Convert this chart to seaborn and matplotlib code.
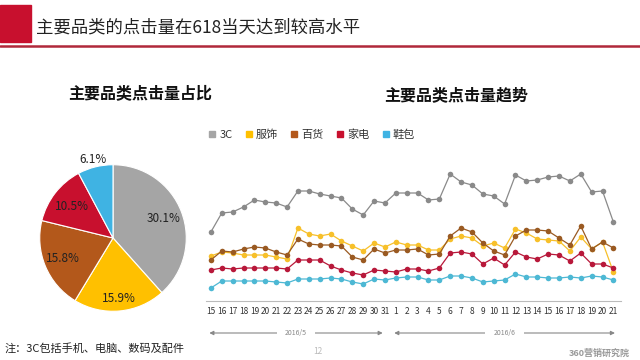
import numpy as np
import pandas as pd
import matplotlib
matplotlib.use("Agg")
import matplotlib.pyplot as plt
from matplotlib.lines import Line2D
from matplotlib.patches import Rectangle
import seaborn as sns

# data
categories = ["3C", "服饰", "百货", "家电", "鞋包"]
share = [30.1, 15.9, 15.8, 10.5, 6.1]
days = [str(d) for d in range(15, 32)] + [str(d) for d in range(1, 22)]
clicks_3c = [69, 88, 89, 94, 101, 99, 98, 94, 110, 110, 107, 105, 103, 92, 86, 100, 98,
             108, 108, 108, 101, 102, 127, 119, 116, 107, 105, 97, 126, 120, 121, 124, 125, 120, 127, 109, 110, 79]
clicks_fushi = [45, 49, 48, 46, 46, 46, 44, 42, 73, 67, 65, 67, 60, 55, 50, 58, 54,
                59, 56, 56, 51, 51, 62, 65, 63, 55, 58, 53, 72, 68, 62, 61, 60, 50, 64, 52, 59, 29]
clicks_baihuo = [41, 50, 49, 52, 54, 53, 49, 46, 62, 57, 56, 56, 55, 44, 41, 52, 48,
                 51, 51, 52, 46, 47, 65, 73, 69, 58, 50, 46, 65, 71, 71, 70, 63, 56, 75, 52, 59, 53]
clicks_jiadian = [31, 33, 32, 33, 33, 33, 33, 32, 41, 41, 41, 35, 31, 28, 26, 31, 30,
                  29, 32, 32, 30, 33, 48, 49, 47, 37, 43, 36, 49, 44, 42, 47, 46, 40, 48, 37, 37, 33]
clicks_xiebao = [13, 20, 20, 20, 20, 20, 19, 18, 22, 22, 22, 23, 22, 19, 17, 22, 21,
                 23, 24, 24, 21, 21, 25, 25, 23, 19, 20, 21, 27, 24, 24, 23, 23, 24, 23, 25, 24, 21]
months = ["2016/5", "2016/6"]
month_days = [17, 21]

pie_colors = ["#a5a5a5", "#ffc000", "#b3581b", "#c8102e", "#3fb3e3"]
line_colors = ["#8a8a8a", "#f7c02a", "#9a5a22", "#b8183a", "#4db8d4"]

sns.set_theme(style="white")
plt.rcParams["font.family"] = ["Noto Sans CJK SC", "DejaVu Sans"]

fig = plt.figure(figsize=(6.4, 3.6), dpi=100)
W, H = 640, 360

def fx(px):
    return px / W

def fy(py):
    return 1 - py / H

# header
fig.add_artist(Rectangle((0, fy(42)), fx(31), (42 - 5) / H, color="#c8102e", transform=fig.transFigure))
fig.add_artist(Line2D([0, 1], [fy(46), fy(46)], color="#b0283a", lw=1.8, transform=fig.transFigure))
fig.text(fx(36), fy(27), "主要品类的点击量在618当天达到较高水平", fontsize=12.5, va="center", ha="left", color="#222222")

# subtitles
fig.text(fx(140), fy(93), "主要品类点击量占比", fontsize=11.5, fontweight="bold", ha="center", va="center", color="#111111")
fig.text(fx(456), fy(95), "主要品类点击量趋势", fontsize=11.5, fontweight="bold", ha="center", va="center", color="#111111")

# pie
ax_pie = fig.add_axes([fx(39), fy(312), 148 / W, 148 / H])
wedges, texts = ax_pie.pie(share, colors=pie_colors, startangle=90, counterclock=False,
                           labels=[f"{v}%" for v in share], labeldistance=0.74,
                           wedgeprops=dict(edgecolor="white", linewidth=0.8))
scale = {1: 1.12, 3: 0.95, 4: 1.5}
for i, t in enumerate(texts):
    x, y = t.get_position()
    k = scale.get(i, 1.0)
    t.set_position((x * k, y * k))
    t.set_ha("center")
    t.set_va("center")
    t.set_fontsize(8.5)
    t.set_color("#222222")
ax_pie.set_xlim(-1.01, 1.01)
ax_pie.set_ylim(-1.01, 1.01)
ax_pie.set_aspect("equal")

# line chart
ax = fig.add_axes([fx(206), fy(301), (621 - 206) / W, (301 - 161) / H])
series = [clicks_3c, clicks_fushi, clicks_baihuo, clicks_jiadian, clicks_xiebao]
rows = []
for cat, vals in zip(categories, series):
    for i, v in enumerate(vals):
        rows.append({"idx": i, "val": v, "cat": cat})
df = pd.DataFrame(rows)
for cat, col in zip(categories, line_colors):
    sub = df[df["cat"] == cat]
    sns.lineplot(data=sub, x="idx", y="val", ax=ax, color=col, lw=0.9, marker="o",
                 markersize=4, markeredgewidth=0, legend=False)

ax.set_xlim(-0.45, len(days) - 1 + 0.7)
ax.set_ylim(0, 140)
ax.set_xticks(range(len(days)))
ax.set_xticklabels(days, fontsize=6, color="#333333")
ax.set_yticks([])
ax.set_xlabel("")
ax.set_ylabel("")
for s in ["top", "right", "left"]:
    ax.spines[s].set_visible(False)
ax.spines["bottom"].set_color("#bbbbbb")
ax.spines["bottom"].set_linewidth(0.8)
ax.tick_params(axis="x", length=0, pad=4)

# legend
handles = [Line2D([], [], marker="s", linestyle="", color=c, markersize=4.5) for c in pie_colors]
ax.legend(handles, categories, ncol=5, frameon=False, fontsize=8, loc="center left",
          bbox_to_anchor=(fx(199), fy(135)), bbox_transform=fig.transFigure,
          handlelength=0.6, handletextpad=0.35, columnspacing=1.15, labelcolor="#333333")

# month arrows
trans = ax.get_xaxis_transform()
arrow_y = (301 - 333) / 140
start = -0.4
for m, n in zip(months, month_days):
    end = start + n - 0.55 if m == months[0] else start + n - 0.2
    ax.annotate("", xy=(start, arrow_y), xytext=(end, arrow_y), xycoords=trans, textcoords=trans,
                arrowprops=dict(arrowstyle="<|-|>", color="#888888", lw=0.8, mutation_scale=6),
                annotation_clip=False)
    ax.text((start + end) / 2, arrow_y, m, transform=trans, fontsize=5, color="#888888",
            ha="center", va="center", bbox=dict(facecolor="white", edgecolor="none", pad=6), clip_on=False)
    start = end + 0.55

# footer
fig.text(fx(5), fy(348), "注：3C包括手机、电脑、数码及配件", fontsize=8, ha="left", va="center", color="#222222")
fig.text(fx(318), fy(351), "12", fontsize=6, ha="center", va="center", color="#bbbbbb")
fig.text(fx(630), fy(353), "360营销研究院", fontsize=6.5, ha="right", va="center", color="#999999", fontweight="bold")

fig.savefig("out.png", dpi=100)
